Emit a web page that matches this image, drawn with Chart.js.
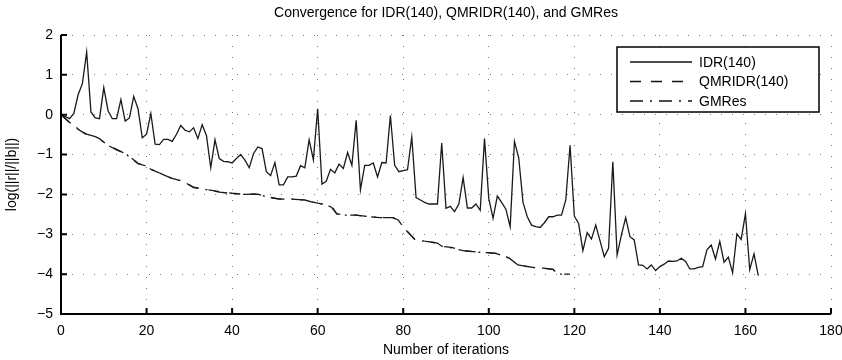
<!DOCTYPE html>
<html lang="en">
<head>
    <meta charset="UTF-8">
    <title>Convergence</title>
    <script src="https://cdn.jsdelivr.net/npm/chart.js@4.4.1/dist/chart.umd.min.js"></script>
    <style>
        html, body { margin: 0; padding: 0; background: #fff; }
        #wrap { width: 842px; height: 360px; }
    </style>
</head>
<body>
    <div id="wrap"><canvas id="myChart"></canvas></div>

    <script>
        // residus IDR(140), un point par iteration (0..163)
        const idrRes = [
            0, -0.05, -0.1, 0.03, 0.5, 0.78, 1.57, 0.07, -0.08, -0.1,
            0.68, 0.1, -0.1, -0.1, 0.38, -0.16, -0.08, 0.46, 0.15, -0.58,
            -0.49, 0.03, -0.74, -0.75, -0.62, -0.62, -0.67, -0.49, -0.27, -0.39,
            -0.43, -0.33, -0.6, -0.25, -0.52, -1.33, -0.63, -1.1, -1.17, -1.18,
            -1.21, -1.1, -1.0, -1.14, -1.33, -0.98, -0.81, -0.85, -1.43, -1.53,
            -1.2, -1.76, -1.76, -1.56, -1.56, -1.54, -1.28, -1.33, -0.63, -1.13,
            0.15, -1.74, -1.67, -1.37, -1.46, -1.24, -1.35, -0.95, -1.27, -0.14,
            -1.88, -1.27, -1.27, -1.21, -1.56, -1.2, -1.21, -0.02, -1.27, -1.43,
            -1.4, -1.38, -0.56, -2.08, -2.14, -2.2, -2.24, -2.24, -2.24, -0.71,
            -2.35, -2.3, -2.43, -2.24, -1.58, -2.34, -2.34, -2.24, -2.4, -0.6,
            -2.1, -2.6, -2.04, -2.2, -2.37, -2.81, -0.67, -1.08, -2.2, -2.56,
            -2.77, -2.81, -2.83, -2.71, -2.56, -2.56, -2.52, -2.52, -2.14, -0.77,
            -2.54, -2.73, -3.41, -2.96, -3.12, -2.77, -3.16, -3.56, -3.35, -1.18,
            -3.52, -3.02, -2.58, -3.06, -3.14, -3.77, -3.78, -3.87, -3.77, -3.91,
            -3.81, -3.75, -3.67, -3.68, -3.67, -3.6, -3.68, -3.87, -3.87, -3.83,
            -3.81, -3.39, -3.27, -3.62, -3.18, -3.7, -3.57, -3.96, -2.99, -3.13,
            -2.48, -3.89, -3.49, -4.04
        ];

        // QMRIDR(140)
        const qmrIter = [0, 2, 3.3, 4.5, 6, 8, 9, 11, 13, 14.5, 16.6, 18, 19.7, 21.2, 23.6, 26, 28.7, 31, 34, 37,
            40, 43, 46, 48, 51, 54, 57, 59.7, 61.6, 63.6, 64.4, 66, 69, 72, 74.5, 77.6, 78.8, 80, 81, 82.7,
            85.4, 88, 89, 91.3, 94, 97.5, 99.4, 101.7, 104.8, 106.8, 110.3, 112.7, 115, 116.2, 119];
        const qmrRes = [0, -0.2, -0.31, -0.4, -0.5, -0.55, -0.6, -0.77, -0.87, -0.95, -1.1, -1.22, -1.28, -1.38, -1.49, -1.6, -1.68, -1.82, -1.88, -1.93,
            -1.97, -2.0, -1.99, -2.06, -2.11, -2.12, -2.14, -2.21, -2.25, -2.35, -2.48, -2.52, -2.52, -2.56, -2.58, -2.58, -2.64, -2.81, -2.93, -3.13,
            -3.18, -3.22, -3.3, -3.33, -3.41, -3.45, -3.46, -3.48, -3.6, -3.77, -3.83, -3.85, -3.88, -4.0, -4.0];

        // GMRes
        const gmrIter = [0, 2, 3.3, 4.5, 6, 8, 9, 11, 13, 14.5, 16.6, 18, 19.7, 21.2, 23.6, 26, 28.7, 31, 34, 37,
            40, 43, 46, 48, 51, 54, 57, 59.7, 61.6, 63.2, 64.6, 66, 69, 72, 74.5, 77.6, 78.8, 80, 81, 82.7,
            85.4, 88, 89, 91.3, 94, 97.5, 99.4, 101.7, 104.8, 106.8, 110.3, 112.7, 115, 116.2, 118.5];
        const gmrRes = [0, -0.19, -0.3, -0.39, -0.49, -0.55, -0.61, -0.77, -0.88, -0.95, -1.1, -1.23, -1.28, -1.38, -1.49, -1.6, -1.68, -1.83, -1.88, -1.94,
            -1.98, -2.0, -1.99, -2.06, -2.12, -2.12, -2.14, -2.22, -2.24, -2.32, -2.5, -2.52, -2.52, -2.56, -2.58, -2.58, -2.65, -2.81, -2.94, -3.13,
            -3.18, -3.22, -3.3, -3.34, -3.41, -3.45, -3.46, -3.48, -3.6, -3.77, -3.83, -3.85, -3.88, -4.0, -4.0];

        const xTicks = [0, 20, 40, 60, 80, 100, 120, 140, 160, 180];
        const yTicks = [-5, -4, -3, -2, -1, 0, 1, 2];
        const seriesNames = ['IDR(140)', 'QMRIDR(140)', 'GMRes'];
        const titre = 'Convergence for IDR(140), QMRIDR(140), and GMRes';

        const police = '"Liberation Sans", Arial, sans-serif';
        Chart.defaults.font.family = police;
        Chart.defaults.font.size = 14;
        Chart.defaults.color = '#000';

        // axes, petits traits vers l'interieur, titre et legende facon Matlab
        const matlabLook = {
            id: 'matlabLook',
            afterDraw(chart) {
                const ctx = chart.ctx;
                const a = chart.chartArea;
                const sx = chart.scales.x;
                const sy = chart.scales.y;
                ctx.save();
                ctx.strokeStyle = '#000';
                ctx.lineWidth = 2;
                ctx.beginPath();
                ctx.moveTo(a.left, a.top);
                ctx.lineTo(a.left, a.bottom);
                ctx.lineTo(a.right, a.bottom);
                xTicks.forEach(v => {
                    const px = sx.getPixelForValue(v);
                    ctx.moveTo(px, a.bottom);
                    ctx.lineTo(px, a.bottom - 6);
                });
                yTicks.forEach(v => {
                    const py = sy.getPixelForValue(v);
                    ctx.moveTo(a.left, py);
                    ctx.lineTo(a.left + 6, py);
                });
                ctx.stroke();

                // titre
                ctx.fillStyle = '#000';
                ctx.font = '14px ' + police;
                ctx.textAlign = 'center';
                ctx.textBaseline = 'middle';
                ctx.fillText(titre, (a.left + a.right) / 2, 13);

                // legende
                const bx = 617, by = 47, bw = 202, bh = 65;
                ctx.fillStyle = '#fff';
                ctx.fillRect(bx, by, bw, bh);
                ctx.lineWidth = 1.5;
                ctx.strokeRect(bx, by, bw, bh);
                ctx.textAlign = 'left';
                chart.data.datasets.forEach((ds, i) => {
                    const ly = by + 15 + i * 19.5;
                    ctx.beginPath();
                    ctx.lineWidth = 1.4;
                    ctx.strokeStyle = '#111';
                    ctx.setLineDash(ds.borderDash || []);
                    ctx.moveTo(bx + 13, ly);
                    ctx.lineTo(bx + 75, ly);
                    ctx.stroke();
                    ctx.setLineDash([]);
                    ctx.fillStyle = '#000';
                    ctx.fillText(ds.label, bx + 82, ly + 1);
                });
                ctx.restore();
            }
        };

        const ctx = document.getElementById('myChart');
        new Chart(ctx, {
            type: 'line',
            data: {
                datasets: [
                    {
                        label: seriesNames[0],
                        data: idrRes.map((v, i) => ({ x: i, y: v })),
                        borderColor: '#1a1a1a',
                        borderWidth: 1.3,
                    },
                    {
                        label: seriesNames[1],
                        data: qmrIter.map((v, i) => ({ x: v, y: qmrRes[i] })),
                        borderColor: '#1a1a1a',
                        borderWidth: 1.3,
                        borderDash: [11, 10],
                    },
                    {
                        label: seriesNames[2],
                        data: gmrIter.map((v, i) => ({ x: v, y: gmrRes[i] })),
                        borderColor: '#1a1a1a',
                        borderWidth: 1.3,
                        borderDash: [13, 7, 2, 7],
                    },
                ]
            },
            options: {
                responsive: true,
                maintainAspectRatio: false,
                animation: false,
                elements: {
                    point: { radius: 0, hoverRadius: 0 },
                    line: { tension: 0 }
                },
                layout: {
                    padding: { top: 35, right: 11, left: 0, bottom: 0 }
                },
                scales: {
                    x: {
                        type: 'linear',
                        min: 0,
                        max: 180,
                        afterBuildTicks: (s) => { s.ticks = xTicks.map(v => ({ value: v })); },
                        afterFit: (s) => { s.height = 46; s.paddingRight = 0; s.paddingLeft = 0; },
                        ticks: { padding: 9, maxRotation: 0 },
                        grid: { color: '#777', lineWidth: 1, drawTicks: false },
                        border: { display: false, dash: [1, 10] },
                        title: {
                            display: true,
                            text: 'Number of iterations',
                            padding: { top: 0, bottom: 1 }
                        }
                    },
                    y: {
                        min: -5,
                        max: 2,
                        afterBuildTicks: (s) => { s.ticks = yTicks.map(v => ({ value: v })); },
                        afterFit: (s) => { s.width = 61; s.paddingTop = 0; s.paddingBottom = 0; },
                        ticks: {
                            padding: 8,
                            callback: (v) => String(v).replace('-', '\u2212')
                        },
                        grid: { color: '#777', lineWidth: 1, drawTicks: false },
                        border: { display: false, dash: [1, 10] },
                        title: {
                            display: true,
                            text: 'log(||r||/||b||)',
                            padding: { top: 4, bottom: 0 }
                        }
                    }
                },
                plugins: {
                    legend: { display: false },
                    tooltip: { enabled: false }
                }
            },
            plugins: [matlabLook]
        });
    </script>
</body>
</html>
